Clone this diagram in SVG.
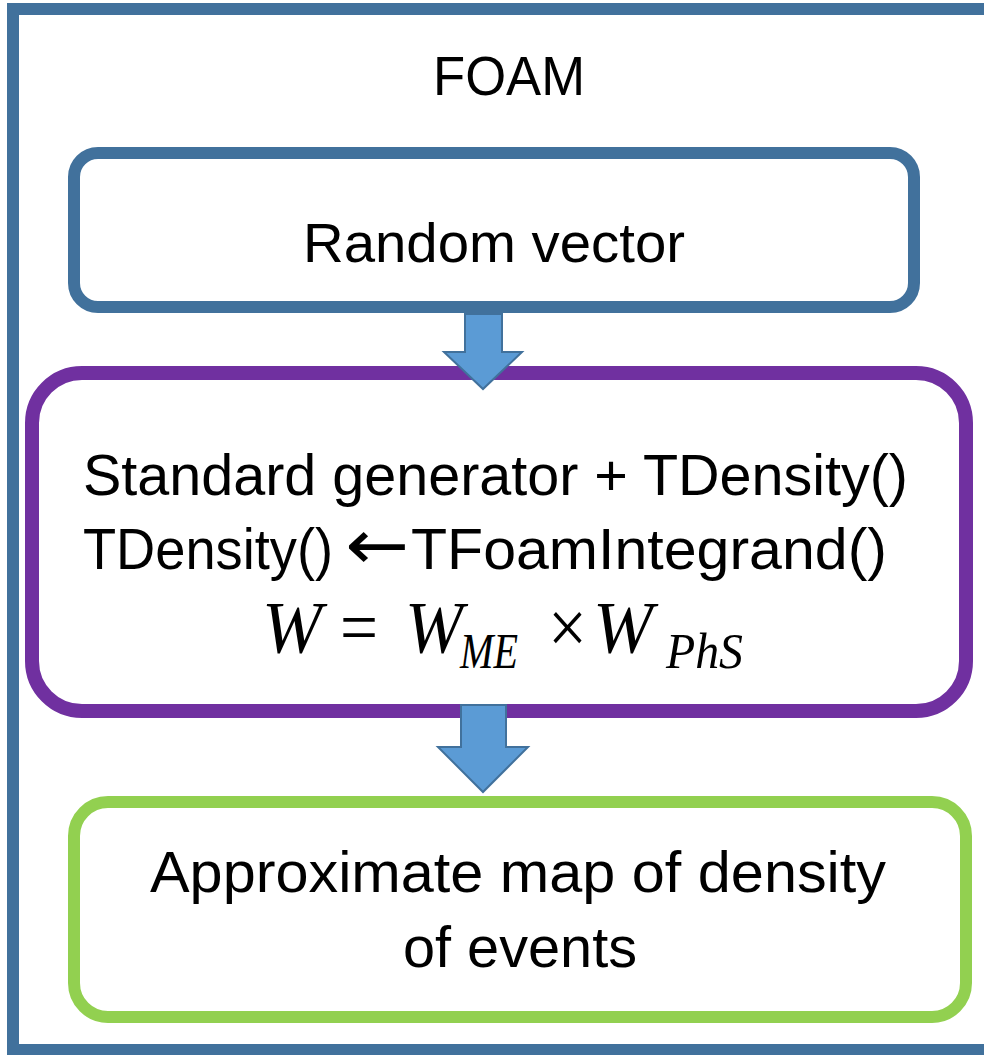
<svg xmlns="http://www.w3.org/2000/svg" width="984" height="1055" viewBox="0 0 984 1055">
  <style>
    .lbl { font-family: "Liberation Sans", Arial, sans-serif; fill: #000; }
    .sym { font-family: "DejaVu Sans", sans-serif; fill: #000; }
    .math { font-family: "Liberation Serif", "Times New Roman", serif; fill: #000; }
    .it { font-style: italic; }
    .box { fill: #fff; }
    .flow { fill: #5B9BD5; stroke: #41719C; stroke-width: 2; stroke-linejoin: miter; }
  </style>
  <rect width="984" height="1055" fill="#fff"/>

  <!-- outer FOAM frame -->
  <g id="frame">
    <rect x="13" y="9" width="1000" height="1041" fill="none" stroke="#41719C" stroke-width="12"/>
    <text class="lbl" x="509" y="95" font-size="56" text-anchor="middle" textLength="152" lengthAdjust="spacingAndGlyphs">FOAM</text>
  </g>

  <!-- input node -->
  <g id="random-vector">
    <rect class="box" x="74" y="153" width="840" height="154" rx="24" stroke="#41719C" stroke-width="12"/>
    <text class="lbl" x="494" y="262" font-size="56" text-anchor="middle" textLength="382" lengthAdjust="spacingAndGlyphs">Random vector</text>
  </g>

  <!-- generator node -->
  <g id="generator">
    <rect class="box" x="32" y="373" width="934" height="338" rx="50" stroke="#7030A0" stroke-width="14"/>
    <text class="lbl" x="83" y="495" font-size="57" textLength="825" lengthAdjust="spacingAndGlyphs">Standard generator + TDensity()</text>
    <text class="lbl" x="83" y="569" font-size="57" textLength="250" lengthAdjust="spacingAndGlyphs">TDensity()</text>
    <text class="sym" x="345" y="569" font-size="70" textLength="64" lengthAdjust="spacingAndGlyphs">←</text>
    <text class="lbl" x="411" y="569" font-size="57" textLength="476" lengthAdjust="spacingAndGlyphs">TFoamIntegrand()</text>
    <g class="math">
      <text class="it" x="262" y="653" font-size="74" textLength="60" lengthAdjust="spacingAndGlyphs">W</text>
      <text x="340" y="653" font-size="76" textLength="38" lengthAdjust="spacingAndGlyphs">=</text>
      <text class="it" x="405" y="653" font-size="74" textLength="58" lengthAdjust="spacingAndGlyphs">W</text>
      <text class="it" x="460" y="668" font-size="50" textLength="58" lengthAdjust="spacingAndGlyphs">ME</text>
      <text x="548" y="653" font-size="76" textLength="39" lengthAdjust="spacingAndGlyphs">×</text>
      <text class="it" x="593" y="653" font-size="74" textLength="60" lengthAdjust="spacingAndGlyphs">W</text>
      <text class="it" x="666" y="668" font-size="50" textLength="77" lengthAdjust="spacingAndGlyphs">PhS</text>
    </g>
  </g>

  <!-- output node -->
  <g id="density-map">
    <rect class="box" x="74" y="802" width="892" height="215" rx="34" stroke="#92D050" stroke-width="12"/>
    <text class="lbl" x="518" y="892" font-size="57" text-anchor="middle" textLength="736" lengthAdjust="spacingAndGlyphs">Approximate map of density</text>
    <text class="lbl" x="520" y="967" font-size="57" text-anchor="middle" textLength="234" lengthAdjust="spacingAndGlyphs">of events</text>
  </g>

  <!-- block arrows between stages -->
  <g id="connectors">
    <polygon class="flow" points="465,314 502,314 502,352 522,352 483,389 444,352 465,352"/>
    <polygon class="flow" points="461,705 506,705 506,747 528,747 483,792 438,747 461,747"/>
  </g>
</svg>
